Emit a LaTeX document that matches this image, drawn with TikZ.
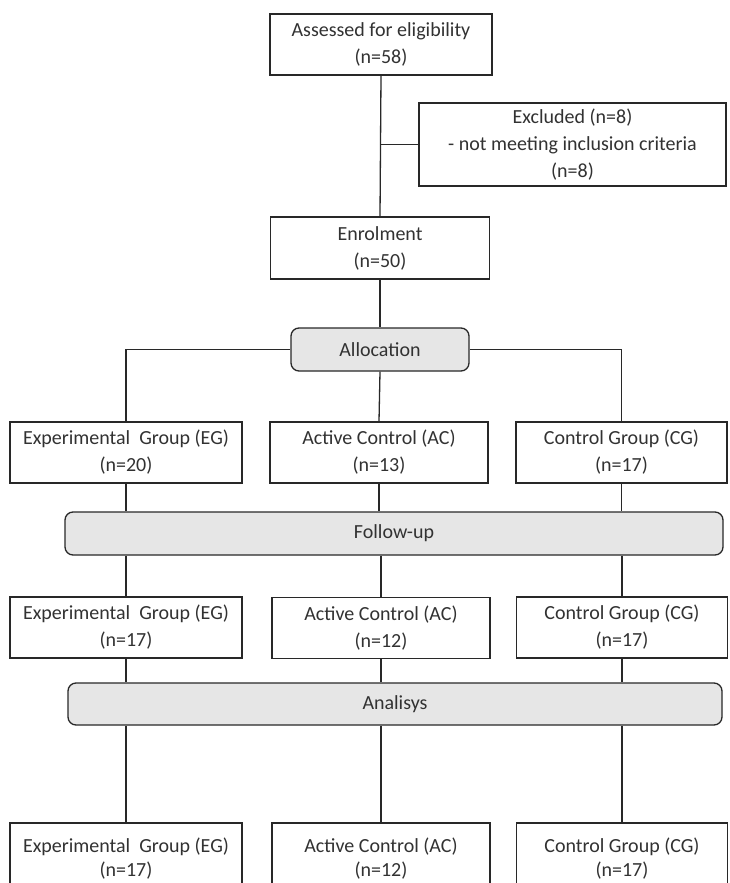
\documentclass[tikz,border=0pt]{standalone}
\usepackage{fontspec}
\setmainfont{Carlito}
\usetikzlibrary{positioning}
\definecolor{BarGray}{RGB}{230,230,230}
\definecolor{TextGray}{RGB}{50,50,50}
\definecolor{LineGray}{RGB}{40,40,40}

\begin{document}
\begin{tikzpicture}[x=1pt, y=-1pt, line width=1.3pt, draw=LineGray,
  every node/.style={font=\fontsize{20}{27}\selectfont, text=TextGray, align=center, inner sep=0pt},
  stagebox/.style={draw=LineGray, fill=white, minimum height=61pt},
  phasebar/.style={draw=LineGray, fill=BarGray, rounded corners=8pt, minimum height=43pt}]
\useasboundingbox (0,0) rectangle (730,883);

\node[stagebox, minimum width=222pt] (assess) at (381,44.5) {Assessed for eligibility\\(n=58)};
\node[stagebox, minimum width=307pt, minimum height=83pt] (excl) at (572.5,144.5) {Excluded (n=8)\\- not meeting inclusion criteria\\(n=8)};
\node[stagebox, minimum width=219pt, minimum height=62pt] (enrol) at (380,248) {Enrolment\\(n=50)};
\node[phasebar, minimum width=178pt] (alloc) at (380,349.5) {Allocation};

\node[stagebox, minimum width=232pt] (eg1) at (126,452.5) {Experimental~ Group (EG)\\(n=20)};
\node[stagebox, minimum width=218pt] (ac1) at (379,452.5) {Active Control (AC)\\(n=13)};
\node[stagebox, minimum width=211pt] (cg1) at (621.5,452.5) {Control Group (CG)\\(n=17)};

\node[phasebar, minimum width=658pt] (follow) at (394,533.5) {Follow-up};

\node[stagebox, minimum width=232pt] (eg2) at (126,627.5) {Experimental~ Group (EG)\\(n=17)};
\node[stagebox, minimum width=218pt] (ac2) at (381,628) {Active Control (AC)\\(n=12)};
\node[stagebox, minimum width=211pt] (cg2) at (622,627.5) {Control Group (CG)\\(n=17)};

\node[phasebar, minimum width=654pt, minimum height=42pt] (anal) at (395,704) {Analisys};

\node[stagebox, minimum width=232pt, minimum height=72pt, font=\fontsize{20}{24}\selectfont] (eg3) at (126,859) {Experimental~ Group (EG)\\(n=17)};
\node[stagebox, minimum width=218pt, minimum height=72pt, font=\fontsize{20}{24}\selectfont] (ac3) at (381,859) {Active Control (AC)\\(n=12)};
\node[stagebox, minimum width=211pt, minimum height=72pt, font=\fontsize{20}{24}\selectfont] (cg3) at (622,859) {Control Group (CG)\\(n=17)};

% trunk
\draw (assess.south) -- (enrol.north);
\draw (excl.west) -- (excl.west -| assess.south);
\draw (enrol.south) -- (alloc.north);

% allocation
\draw (alloc.west) -| (eg1.north);
\draw (alloc.south) -- (ac1.north);
\draw (alloc.east) -| (cg1.north);

% follow-up
\foreach \grp in {eg,ac,cg} {
  \draw (\grp1.south) -- (\grp1.south |- follow.north);
  \draw (\grp2.north |- follow.south) -- (\grp2.north);
  \draw (\grp2.south) -- (\grp2.south |- anal.north);
  \draw (\grp3.north |- anal.south) -- (\grp3.north);
}
\end{tikzpicture}
\end{document}
